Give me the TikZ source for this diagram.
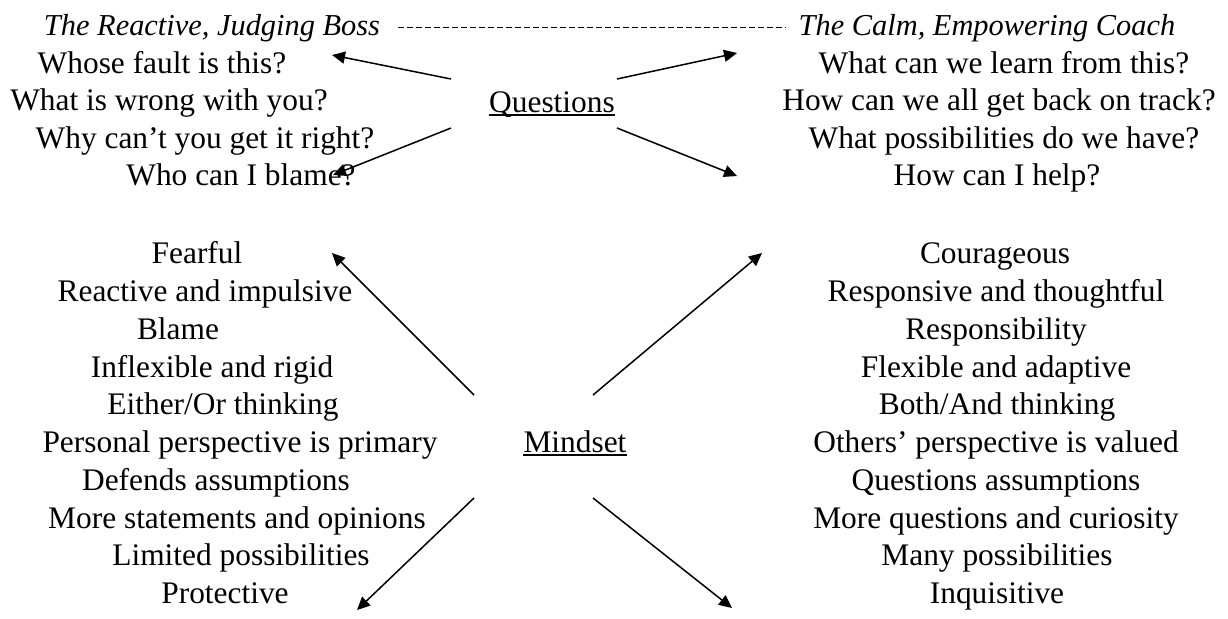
\documentclass[tikz,border=0pt]{standalone}
\usepackage{fontspec}
\setmainfont{Liberation Serif}
\usetikzlibrary{arrows.meta}

\begin{document}
\begin{tikzpicture}[
  x=0.5pt, y=-0.5pt,
  font=\fontsize{15.7}{18.8}\selectfont, >={Triangle[length=6.5pt,width=6pt]},
  entry/.style={anchor=base, inner sep=0pt},
  heading/.style={entry, font=\fontsize{15.2}{18.8}\selectfont\itshape},
  link/.style={->, line width=0.75pt},
  uline/.style={line width=0.8pt},
]
\useasboundingbox (0,0) rectangle (1228,618);

% headings
\node[heading] (boss) at (212,35) {The Reactive, Judging Boss};
\node[heading] (coach) at (987,35) {The Calm, Empowering Coach};
\draw[dash pattern=on 3pt off 1.5pt, line width=0.6pt]
  ([xshift=9pt]boss.east) -- ([xshift=-6pt]coach.west);

% questions, boss side
\node[entry] (bq1) at (162,73) {Whose fault is this?};
\node[entry] (bq2) at (169,110) {What is wrong with you?};
\node[entry] (bq3) at (205,148) {Why can’t you get it right?};
\node[entry] (bq4) at (241,185) {Who can I blame?};

% questions, coach side
\node[entry] (cq1) at (1004,73) {What can we learn from this?};
\node[entry] (cq2) at (999,110) {How can we all get back on track?};
\node[entry] (cq3) at (1004,148) {What possibilities do we have?};
\node[entry] (cq4) at (997,185) {How can I help?};

% hub: Questions
\node[entry] (ques) at (552,112) {Questions};
\draw[uline] ([yshift=-1.5pt]ques.base west) -- ([yshift=-1.5pt]ques.base east);
\coordinate (qnw) at (451,79);  \coordinate (qnw-tip) at (332,55);
\coordinate (qsw) at (451,128); \coordinate (qsw-tip) at (333,175);
\coordinate (qne) at (617,79);  \coordinate (qne-tip) at (737,53);
\coordinate (qse) at (617,128); \coordinate (qse-tip) at (737,176);
\draw[link] (qnw) -- (qnw-tip);
\draw[link] (qsw) -- (qsw-tip);
\draw[link] (qne) -- (qne-tip);
\draw[link] (qse) -- (qse-tip);

% mindset, boss side
\node[entry] (bm1) at (197,263) {Fearful};
\node[entry] (bm2) at (205,301) {Reactive and impulsive};
\node[entry] (bm3) at (178,339) {Blame};
\node[entry] (bm4) at (212,377) {Inflexible and rigid};
\node[entry] (bm5) at (223,414) {Either/Or thinking};
\node[entry] (bm6) at (240,452) {Personal perspective is primary};
\node[entry] (bm7) at (216,490) {Defends assumptions};
\node[entry] (bm8) at (237,528) {More statements and opinions};
\node[entry] (bm9) at (241,565) {Limited possibilities};
\node[entry] (bm10) at (225,603) {Protective};

% mindset, coach side
\node[entry] (cm1) at (995,263) {Courageous};
\node[entry] (cm2) at (996,301) {Responsive and thoughtful};
\node[entry] (cm3) at (996,339) {Responsibility};
\node[entry] (cm4) at (996,377) {Flexible and adaptive};
\node[entry] (cm5) at (997,414) {Both/And thinking};
\node[entry] (cm6) at (996,452) {Others’ perspective is valued};
\node[entry] (cm7) at (996,490) {Questions assumptions};
\node[entry] (cm8) at (996,528) {More questions and curiosity};
\node[entry] (cm9) at (997,565) {Many possibilities};
\node[entry] (cm10) at (997,603) {Inquisitive};

% hub: Mindset
\node[entry] (mind) at (575,452) {Mindset};
\draw[uline] ([yshift=-1.5pt]mind.base west) -- ([yshift=-1.5pt]mind.base east);
\coordinate (mnw) at (474,395); \coordinate (mnw-tip) at (332,253);
\coordinate (mne) at (593,395); \coordinate (mne-tip) at (762,253);
\coordinate (msw) at (474,498); \coordinate (msw-tip) at (357,610);
\coordinate (mse) at (593,498); \coordinate (mse-tip) at (732,608);
\draw[link] (mnw) -- (mnw-tip);
\draw[link] (mne) -- (mne-tip);
\draw[link] (msw) -- (msw-tip);
\draw[link] (mse) -- (mse-tip);
\end{tikzpicture}
\end{document}
